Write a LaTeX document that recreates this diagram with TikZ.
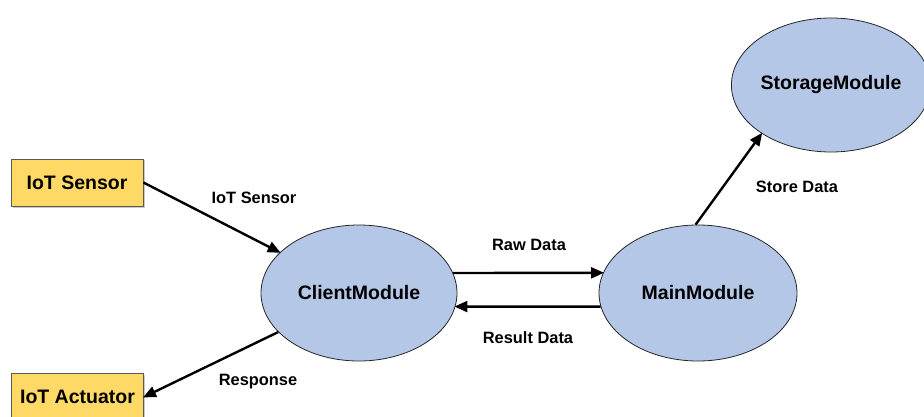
\documentclass[tikz,border=0pt]{standalone}
\usepackage{fontspec}
\setmainfont{Liberation Sans}
\usetikzlibrary{arrows.meta,shapes.geometric,shadows}
\definecolor{boxfill}{HTML}{FFD966}
\definecolor{ellfill}{HTML}{B4C7E7}
\tikzset{
  iotbox/.style={rectangle,draw=black!65,line width=0.8pt,fill=boxfill,minimum width=132pt,minimum height=47pt,inner sep=0pt,
    font=\fontsize{19.5}{22}\selectfont\bfseries,drop shadow={shadow xshift=1.5pt,shadow yshift=-1.5pt,opacity=0.35,fill=black!60}},
  modell/.style={ellipse,draw=black!85,line width=0.8pt,fill=ellfill,inner sep=0pt,font=\fontsize{19.5}{22}\selectfont\bfseries},
  conn/.style={line width=2.4pt,-{Triangle[length=13pt,width=11pt]},shorten >=-1pt},
  lab/.style={font=\fontsize{16.4}{19}\selectfont\bfseries,inner sep=0pt}
}
\begin{document}
\begin{tikzpicture}[x=1pt,y=-1pt]
\useasboundingbox (0,0) rectangle (924,417);
\node[iotbox] (sensor) at (77,182.5) {IoT Sensor};
\node[iotbox] (actuator) at (77.5,397) {IoT Actuator};
\node[modell,minimum width=196pt,minimum height=136pt] (client) at (359,293) {ClientModule};
\node[modell,minimum width=198pt,minimum height=136pt] (main) at (698,293) {MainModule};
\node[modell,minimum width=190pt,minimum height=134pt] (storage) at (831,85) {StorageModule};
\draw[conn] (sensor.east) -- (client);
\draw[conn] (client) -- (actuator.east);
\draw[conn] (client.12) -- (main.168);
\draw[conn] (main.188) -- (client.-8);
\draw[conn] (main.92) -- (storage.215);
\node[lab] (l1) at (254,198) {IoT Sensor};
\node[lab] (l2) at (529,245) {Raw Data};
\node[lab] (l3) at (528,338) {Result Data};
\node[lab] (l4) at (258,382) {Response};
\node[lab] (l5) at (797,187) {Store Data};
\end{tikzpicture}
\end{document}
